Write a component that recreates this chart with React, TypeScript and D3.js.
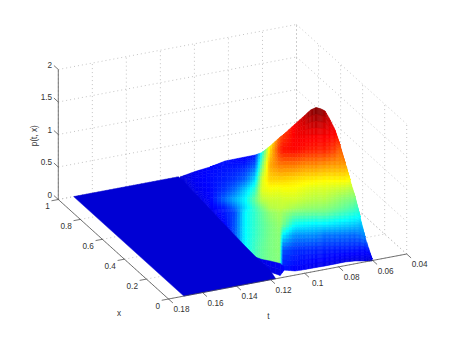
import React from "react";
import * as d3 from "d3";

const W = 449, H = 337;
const tTicks = [0.18, 0.16, 0.14, 0.12, 0.1, 0.08, 0.06, 0.04];
const xTicks = [0, 0.2, 0.4, 0.6, 0.8, 1];
const zTicks = [0, 0.5, 1, 1.5, 2];

// Surface samples: each row is a slanted cut, t = rowT0 - skew * x.
const skew = 0.0648;
const rowT0 = [.1732,.1644,.1556,.1468,.1409,.135,.1291,.125,.1203,.1144,.1127,.1056,.0997,.0965,.0933,.0906,.088,.085,.0821,.0792,.0762,.0733,.0703,.0674,.0645,.0603];
const rowX = [
  [.9905,.9905,.9905,.9905,.979,.979,.979,.979,.979,.979,.979,.979,.979],
  [.9911,.9911,.9911,.9911,.915,.8427,.812,.812,.812,.812,.812,.812,.812],
  [.9887,.9887,.9887,.9887,.875,.7975,.72,.664,.647,.647,.647,.647,.647],
  [1.0042,1.0042,1.0042,.971,.83,.7254,.5936,.5974,.5612,.483,.48,.48,.48],
  [1.0159,1.0159,1.0159,.9553,.7928,.661,.5131,.5114,.5023,.3918,.2838,.2838,.2838],
  [1.0277,1.0277,1.0277,.9288,.7339,.5589,.4326,.3931,.3245,.2248,.1417,.0337,.0337],
  [1.007,1.007,1.007,.8591,.6101,.446,.3143,.2856,.2548,.1551,.072,-.0635,-.13],
  [.7736,.7736,.7736,.5888,.3668,.2729,.2276,.2205,.2006,.1117,.0286,-.1069,-.19],
  [.599,.599,.5384,.3601,.2786,.2441,.1988,.1539,.1447,.0666,-.0165,-.1412,-.2409],
  [.496,.496,.3498,.3012,.2629,.2338,.1831,.1274,.1074,.0239,-.0484,-.1731,-.284],
  [.4917,.4917,.3235,.2965,.2582,.2237,.173,.1227,.1135,.0463,.082,.1086,.0072],
  [.4995,.4081,.2939,.2777,.2502,.2049,.1542,.1255,.1271,.1355,.155,.1222,.0017],
  [.5046,.387,.2944,.2782,.2453,.2054,.1547,.126,.1169,.1306,.1393,.1119,.0039],
  [.4998,.381,.2912,.2696,.2394,.2022,.1515,.12,.111,.1274,.1334,.106,.0063],
  [.4849,.3751,.2879,.2609,.2334,.1989,.1482,.1141,.105,.1241,.1274,.1,.0086],
  [.4779,.3681,.2809,.2593,.2291,.1919,.1412,.1098,.098,.1171,.1312,.0957,.0078],
  [.4795,.361,.2738,.2576,.2247,.1848,.1341,.1054,.0909,.11,.1349,.0913,.007],
  [.44,.3586,.2795,.2525,.2169,.1824,.1371,.1057,.0939,.1076,.1271,.0862,.0102],
  [.3869,.3561,.2851,.2473,.209,.1799,.14,.1059,.0968,.1051,.1192,.081,.0133],
  [.3191,.3191,.3097,.2394,.2012,.1775,.143,.1089,.0998,.1027,.1141,.0732,.0165],
  [.232,.232,.232,.2316,.1933,.175,.1459,.1119,.1027,.1002,.1089,.0653,.0196],
  [.1908,.1908,.1908,.1908,.1908,.1779,.1435,.1149,.1057,.0978,.1038,.0602,.0159],
  [.1497,.1497,.1497,.1497,.1497,.1497,.1411,.1178,.1086,.0953,.0986,.055,.0122],
  [.0999,.0999,.0999,.0999,.0999,.0999,.0999,.0999,.0999,.0982,.0799,.0525,.0043],
  [.0447,.0447,.0447,.0447,.0447,.0447,.0447,.0447,.0447,.0447,.0447,.0447,-.0035],
  [-.0033,-.0033,-.0033,-.0033,-.0033,-.0033,-.0033,-.0033,-.0033,-.0033,-.0033,-.0033,-.0037],
];
const rowP = [
  [.01,.01,.01,.01,0,0,0,0,0,0,0,0,0],
  [.05,.05,.05,.05,.06,.04,.02,.02,.02,.02,.02,.02,.02],
  [.08,.08,.08,.08,.09,.08,.07,.05,.02,.02,.02,.02,.02],
  [.1,.1,.1,.1,.13,.17,.26,.13,.12,.08,.04,.04,.04],
  [.08,.08,.08,.1,.17,.26,.38,.26,.2,.22,.22,.22,.22],
  [.06,.06,.06,.12,.25,.42,.5,.45,.5,.5,.5,.5,.5],
  [.1,.1,.1,.22,.45,.6,.69,.62,.6,.6,.6,.62,.62],
  [.55,.55,.55,.7,.88,.9,.83,.72,.68,.66,.66,.68,.68],
  [.95,.95,1,1.1,1.02,.93,.86,.82,.76,.72,.72,.72,.72],
  [1.25,1.25,1.32,1.18,1.02,.92,.86,.84,.8,.77,.75,.75,.74],
  [1.28,1.28,1.36,1.18,1.02,.93,.87,.84,.78,.72,.5,.22,.1],
  [1.4,1.4,1.38,1.18,1,.93,.87,.8,.72,.52,.33,.16,.06],
  [1.5,1.41,1.35,1.15,.98,.9,.84,.77,.71,.5,.33,.15,.05],
  [1.57,1.405,1.34,1.15,.975,.89,.83,.765,.705,.49,.325,.145,.045],
  [1.62,1.4,1.33,1.15,.97,.88,.82,.76,.7,.48,.32,.14,.04],
  [1.6,1.4,1.33,1.14,.965,.88,.82,.755,.7,.48,.3,.135,.04],
  [1.55,1.4,1.33,1.13,.96,.88,.82,.75,.7,.48,.28,.13,.04],
  [1.47,1.39,1.305,1.125,.96,.87,.8,.735,.68,.47,.28,.125,.035],
  [1.4,1.38,1.28,1.12,.96,.86,.78,.72,.66,.46,.28,.12,.03],
  [1.28,1.28,1.22,1.12,.96,.85,.76,.7,.64,.45,.275,.12,.025],
  [1.15,1.15,1.15,1.12,.96,.84,.74,.68,.62,.44,.27,.12,.02],
  [.95,.95,.95,.95,.95,.82,.73,.66,.6,.43,.265,.115,.02],
  [.75,.75,.75,.75,.75,.75,.72,.64,.58,.42,.26,.11,.02],
  [.52,.52,.52,.52,.52,.52,.52,.52,.52,.4,.28,.1,.02],
  [.3,.3,.3,.3,.3,.3,.3,.3,.3,.3,.3,.1,.02],
  [.03,.03,.03,.03,.03,.03,.03,.03,.03,.03,.03,.03,0],
];

// Low fan of rows right under the front
const fanT0 = [.1291,.125,.1203,.1144,.1121];
const fanX = [[.1971,.1942],[.1599,.1167],[.1294,.0542],[.0875,.004],[.0415,.0124]];
const fanP = [[.03,.02],[.04,.02],[.05,.02],[.06,.03],[.08,.08]];

// The flat sheet at p = 0
const flatStartT = 0.171;
const flatX = [1, .75, .53, .32, .19, .08, 0];
const flatT = [.1093, .111, .1127, .1143, .115, .1151, .117];

const uScale = d3.scaleLinear().domain([0.18, 0.04]).range([0, 1]);
const vScale = d3.scaleLinear().domain([0, 1]).range([0, 1]);
const zScale = d3.scaleLinear().domain([0, 2]).range([0, 130]);
const project = (t: number, x: number, z: number): [number, number] => {
  const u = uScale(t), v = vScale(x);
  return [168.5 + 238.2 * u - 110.2 * v, 299 - 45 * u - 99.5 * v - zScale(z)];
};

const jetChannel = (d: number) => Math.max(0, Math.min(1, 1.5 - Math.abs(d)));
const cLevel = d3.scaleLinear().domain([-0.145, 1.605]).range([0, 1]).clamp(true);
const jet = (z: number) => {
  const g = cLevel(z) * 4;
  return d3.rgb(255 * jetChannel(g - 3), 255 * jetChannel(g - 2), 255 * jetChannel(g - 1)).formatHex();
};

const toPath = (pts: [number, number][]) => d3.line()(pts) + "Z";

function meshCells(t0: number[], xs: number[][], zs: number[][], sub: number) {
  const cells: { d: string; c: string }[] = [];
  const vert = (i: number, j: number): [number, number, number] => {
    const x = xs[i][j];
    const [sx, sy] = project(t0[i] - skew * x, x, zs[i][j]);
    return [sx, sy, zs[i][j]];
  };
  for (let i = 0; i + 1 < t0.length; i++) {
    for (let j = 0; j + 1 < xs[i].length; j++) {
      const a = vert(i, j), b = vert(i + 1, j), c = vert(i + 1, j + 1), e = vert(i, j + 1);
      const pt = (p: number, q: number) => a.map((_, k) =>
        (1 - p) * (1 - q) * a[k] + p * (1 - q) * b[k] + p * q * c[k] + (1 - p) * q * e[k]);
      for (let m = 0; m < sub; m++) for (let n = 0; n < sub; n++) {
        const p0 = m / sub, p1 = (m + 1) / sub, q0 = n / sub, q1 = (n + 1) / sub;
        const A = pt(p0, q0), B = pt(p1, q0), C = pt(p1, q1), D = pt(p0, q1);
        if (Math.abs((B[0]-A[0])*(D[1]-A[1])-(B[1]-A[1])*(D[0]-A[0])) + Math.abs((C[0]-B[0])*(D[1]-B[1])-(C[1]-B[1])*(D[0]-B[0])) < 0.01) continue;
        cells.push({
          d: toPath([[A[0], A[1]], [B[0], B[1]], [C[0], C[1]], [D[0], D[1]]]),
          c: jet((A[2] + B[2] + C[2] + D[2]) / 4),
        });
      }
    }
  }
  return cells;
}

const seg = (a: [number, number], b: [number, number]) => d3.line()([a, b]) as string;

export default function App() {
  const tMin = 0.18, tMax = 0.04, zTop = 2;
  const grid: string[] = [];
  zTicks.forEach((z) => {
    grid.push(seg(project(tMin, 1, z), project(tMax, 1, z)));
    grid.push(seg(project(tMax, 1, z), project(tMax, 0, z)));
  });
  tTicks.forEach((t) => {
    grid.push(seg(project(t, 1, 0), project(t, 1, zTop)));
    grid.push(seg(project(t, 0, 0), project(t, 1, 0)));
  });
  xTicks.forEach((x) => {
    grid.push(seg(project(tMax, x, 0), project(tMax, x, zTop)));
    grid.push(seg(project(tMin, x, 0), project(tMax, x, 0)));
  });

  const axis = "#3c3c3c";
  const font = { fontFamily: "'Liberation Sans', Arial, sans-serif", fontSize: 8.2, fill: "#333" };
  const cells = [...meshCells(rowT0, rowX, rowP, 4), ...meshCells(fanT0, fanX, fanP, 2)];
  const flat: [number, number][] = [
    project(flatStartT, 0, 0),
    project(flatStartT, 1, 0),
    ...flatX.map((x, i) => project(flatT[i], x, 0)),
  ];

  return (
    <svg width={W} height={H} viewBox={`0 0 ${W} ${H}`}
      style={{ position: "absolute", left: 0, top: 0, background: "#fff" }}>
      <g fill="none" stroke="#aaaaaa" strokeWidth={0.7} strokeDasharray="1 3">
        {grid.map((d, i) => <path key={i} d={d} />)}
      </g>
      <g>
        {cells.map((c, i) => <path key={i} d={c.d} fill={c.c} stroke={c.c} strokeWidth={0.5} />)}
      </g>
      <path d={toPath(flat)} fill={jet(0)} stroke={jet(0)} strokeWidth={0.5} />

      <g fill="none" stroke={axis} strokeWidth={0.7}>
        <path d={seg(project(tMin, 1, 0), project(tMin, 1, zTop))} />
        <path d={seg(project(tMin, 1, 0), project(tMin, 0, 0))} />
        <path d={seg(project(tMin, 0, 0), project(tMax, 0, 0))} />
        {zTicks.map((z) => <path key={z} d={seg(project(tMin, 1, z), project(tMin, 1.04, z))} />)}
        {xTicks.map((x) => <path key={x} d={seg(project(tMin, x, 0), project(tMin + 0.004, x, 0))} />)}
        {tTicks.map((t) => <path key={t} d={seg(project(t, 0, 0), project(t, -0.04, 0))} />)}
      </g>

      <g {...font}>
        {zTicks.map((z) => {
          const [px, py] = project(tMin, 1, z);
          return <text key={z} x={px - 6.2} y={py - 4.5} dy="0.35em" textAnchor="end">{z}</text>;
        })}
        {xTicks.map((x) => {
          const [px, py] = project(tMin, x, 0);
          return <text key={x} x={px - 8.5} y={py + 7} dy="0.35em" textAnchor="end">{x}</text>;
        })}
        {tTicks.map((t) => {
          const [px, py] = project(t, 0, 0);
          return <text key={t} x={px + 13} y={py + 10.3} dy="0.35em" textAnchor="middle">{t}</text>;
        })}
        <text x={119} y={313.3} dy="0.35em" textAnchor="middle">x</text>
        <text x={268.3} y={316} dy="0.35em" textAnchor="middle">t</text>
        <text transform="translate(34,135.7) rotate(-90)" dy="0.35em" textAnchor="middle">p(t, x)</text>
      </g>
    </svg>
  );
}
